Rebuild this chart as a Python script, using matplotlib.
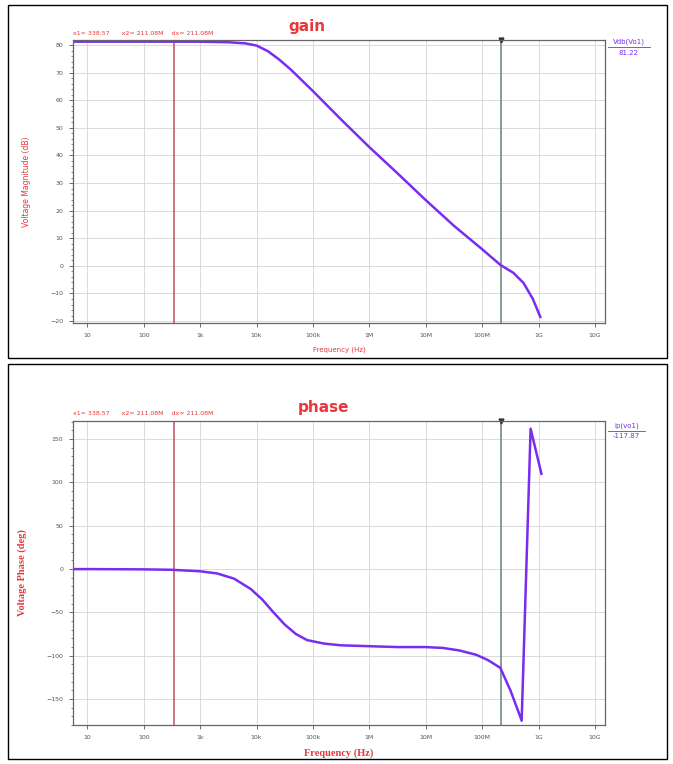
import numpy as np
import matplotlib
matplotlib.use("Agg")
import matplotlib.pyplot as plt
from matplotlib.patches import Rectangle
from matplotlib.ticker import FixedLocator, MultipleLocator, LogLocator, NullFormatter

# gain curve (Hz, dB)
gain_freq = [5.6, 10, 100, 1e3, 3.16e3, 6.3e3, 1e4, 1.58e4, 2.5e4, 4e4, 6.3e4,
             1e5, 3.16e5, 1e6, 3.16e6, 1e7, 3.16e7, 1e8, 2.11e8, 3.55e8, 5.4e8,
             7.9e8, 1.07e9]
gain_db = [81.22, 81.22, 81.22, 81.2, 81.0, 80.6, 79.8, 77.8, 74.8, 71.2, 67.3,
           63.3, 53.0, 43.0, 33.5, 23.8, 14.5, 6.0, 0.3, -2.5, -6.2,
           -12.0, -18.5]

# phase curve (Hz, deg)
phase_freq = [5.6, 10, 100, 316, 1e3, 2e3, 4e3, 7.9e3, 1.26e4, 2e4, 3.16e4, 5e4,
              7.9e4, 1.58e5, 3.16e5, 1e6, 3.16e6, 1e7, 2e7, 4e7, 7.9e7, 1.26e8,
              2.09e8, 3.16e8, 4.4e8, 5e8, 7.2e8, 1.12e9]
phase_deg = [0, 0, -0.3, -0.8, -2.5, -5, -11, -23, -35, -50, -64, -75,
             -82, -86, -88, -89, -90, -90, -91, -94, -99, -105,
             -114, -140, -165, -175, 162, 110]

x_ticks = [10, 100, 1e3, 1e4, 1e5, 1e6, 1e7, 1e8, 1e9, 1e10]
x_labels = ["10", "100", "1k", "10k", "100k", "1M", "10M", "100M", "1G", "10G"]
cursor_x1 = 338.57
cursor_x2 = 211.08e6

red = "#e8383c"
purple = "#7a2cf0"

fig = plt.figure(figsize=(6.73, 7.64), dpi=100)

# panel frames
fig.patches.append(Rectangle((0.012, 0.531), 0.979, 0.463, transform=fig.transFigure,
                             fill=False, edgecolor="black", linewidth=1.0))
fig.patches.append(Rectangle((0.012, 0.006), 0.979, 0.517, transform=fig.transFigure,
                             fill=False, edgecolor="black", linewidth=1.0))

ax1 = fig.add_axes([0.1085, 0.5772, 0.7905, 0.3704])
ax2 = fig.add_axes([0.1085, 0.0510, 0.7905, 0.3980])


def style_axes(ax, major, minor):
    ax.set_xscale("log")
    ax.set_xlim(5.6, 1.5e10)
    ax.xaxis.set_major_locator(FixedLocator(x_ticks))
    ax.set_xticklabels(x_labels)
    ax.xaxis.set_minor_locator(LogLocator(base=10, subs=np.arange(2, 10)))
    ax.xaxis.set_minor_formatter(NullFormatter())
    ax.yaxis.set_major_locator(MultipleLocator(major))
    ax.yaxis.set_minor_locator(MultipleLocator(minor))
    ax.tick_params(which="major", labelsize=4.5, length=3, width=0.6,
                   colors="#555555", pad=4)
    ax.tick_params(which="minor", length=1.8, width=0.5, colors="#555555")
    ax.grid(which="major", color="#d4d4d4", linewidth=0.6)
    ax.grid(which="minor", axis="x", color="#e2e2e2", linewidth=0.5, linestyle=(0, (2, 1)))
    for s in ax.spines.values():
        s.set_color("#666666")
        s.set_linewidth(0.9)


# ---- gain ----
style_axes(ax1, 10, 2)
ax1.set_ylim(-20.7, 81.8)
ax1.axvline(cursor_x1, color="#c05060", linewidth=1.1)
ax1.axvline(cursor_x2, color="#6f9080", linewidth=1.2)
ax1.plot([cursor_x2], [81.8], marker="v", color="#333333", markersize=3.5, clip_on=False)
ax1.plot(gain_freq, gain_db, color=purple, linewidth=1.8)
ax1.set_ylabel("Voltage Magnitude (dB)", color=red, fontsize=5.5, labelpad=14)
ax1.set_xlabel("Frequency (Hz)", color=red, fontsize=5.0, labelpad=6)
ax1.text(0.0, 1.015, "x1= 338.57      x2= 211.08M    dx= 211.08M", transform=ax1.transAxes,
         color=red, fontsize=4.5, ha="left", va="bottom")
ax1.text(0.44, 1.02, "gain", transform=ax1.transAxes, color=red, fontsize=11,
         fontweight="bold", ha="center", va="bottom")
ax1.text(1.045, 0.995, "Vdb(Vo1)", transform=ax1.transAxes, color=purple, fontsize=5,
         ha="center", va="center")
ax1.plot([1.005, 1.085], [0.975, 0.975], transform=ax1.transAxes, color=purple,
         linewidth=0.6, clip_on=False)
ax1.text(1.045, 0.955, "81.22", transform=ax1.transAxes, color=purple, fontsize=5,
         ha="center", va="center")

# ---- phase ----
style_axes(ax2, 50, 10)
ax2.set_ylim(-180, 171)
ax2.axvline(cursor_x1, color="#c05060", linewidth=1.1)
ax2.axvline(cursor_x2, color="#6f9080", linewidth=1.2)
ax2.plot([cursor_x2], [171], marker="v", color="#333333", markersize=3.5, clip_on=False)
ax2.plot(phase_freq, phase_deg, color=purple, linewidth=1.8)
ax2.set_ylabel("Voltage Phase (deg)", color=red, fontsize=7.5, family="Liberation Serif",
               fontweight="bold", labelpad=14)
ax2.set_xlabel("Frequency (Hz)", color=red, fontsize=7.5, family="Liberation Serif",
               fontweight="bold", labelpad=6)
ax2.text(0.0, 1.015, "x1= 338.57      x2= 211.08M    dx= 211.08M", transform=ax2.transAxes,
         color=red, fontsize=4.5, ha="left", va="bottom")
ax2.text(0.47, 1.02, "phase", transform=ax2.transAxes, color=red, fontsize=11,
         fontweight="bold", ha="center", va="bottom")
ax2.text(1.04, 0.985, "ip(vo1)", transform=ax2.transAxes, color=purple, fontsize=5,
         ha="center", va="center")
ax2.plot([1.005, 1.075], [0.968, 0.968], transform=ax2.transAxes, color=purple,
         linewidth=0.6, clip_on=False)
ax2.text(1.04, 0.952, "-117.87", transform=ax2.transAxes, color=purple, fontsize=5,
         ha="center", va="center")

fig.savefig("out.png", dpi=100)
